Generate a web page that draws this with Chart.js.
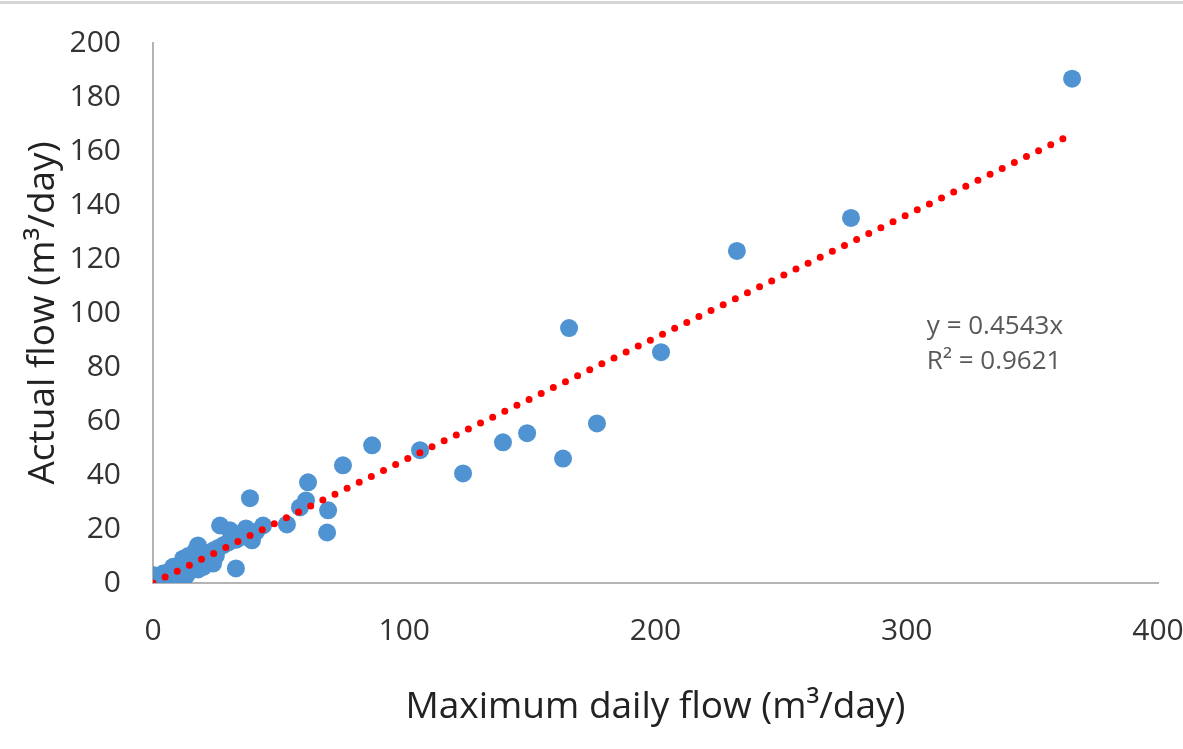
<!DOCTYPE html>
<html>
<head>
<meta charset="utf-8">
<script src="https://cdn.jsdelivr.net/npm/chart.js@4.4.1/dist/chart.umd.min.js"></script>
<style>
  html, body { margin: 0; padding: 0; background: #fff; }
  #wrap { position: relative; width: 1183px; height: 749px; }
  #topline { position: absolute; left: 0; top: 1px; width: 1183px; height: 3px; background: #d6d6d6; }
</style>
</head>
<body>
<div id="wrap">
  <canvas id="canvas" width="1183" height="749"></canvas>
  <div id="topline"></div>
</div>
<script>
'use strict';

// maximum daily flow (m3/day) vs actual flow (m3/day)
const maxFlow = [
  365.8, 277.8, 232.4, 165.6, 202.2, 176.7, 163.2, 148.9, 139.3, 123.4,
  106.3, 87.2, 75.6, 69.7, 69.3, 61.7, 60.9, 58.5, 53.3, 38.6,
  37.0, 39.4, 43.8, 33.0, 26.7, 30.6, 31.8, 17.9, 23.9, 15.0,
  16.0, 10.7, 0, 1, 2, 3, 4, 5, 6, 7,
  8, 9, 10, 11, 12, 13, 14, 16, 18, 20,
  22, 24, 26, 28, 30, 33, 2, 4, 6, 8,
  10, 12, 14, 18, 20, 3, 6, 9, 12, 14,
  17, 35, 41, 0, 1, 2, 3, 5, 7, 9,
  11, 13, 0, 1, 4, 8, 21, 25
];
const actualFlow = [
  186.8, 135.2, 123.0, 94.4, 85.5, 59.1, 46.1, 55.5, 52.1, 40.6,
  49.2, 51.0, 43.6, 26.9, 18.7, 37.3, 30.6, 28.0, 21.7, 31.4,
  20.2, 15.8, 21.3, 5.4, 21.3, 19.5, 18.4, 13.9, 7.2, 7.0,
  5.0, 3.5, 0, 0.5, 1, 1.2, 2, 2.5, 3, 3,
  3.5, 4.5, 5, 5, 6, 6.5, 7, 8, 9, 10,
  11, 12, 13, 14, 15, 16, 0, 0.5, 1, 1.5,
  2, 3, 4, 5, 6, 2, 4, 6, 9, 10,
  12, 17, 19, 1.5, 0, 2.5, 0, 0.5, 1, 2,
  1.5, 2.5, 3, 2.5, 3.5, 6, 8, 10
];

// linear trend through origin
const slope = 0.4543;
const rSquared = 0.9621;
const trendX = [0, 363];

const xTicks = [0, 100, 200, 300, 400];
const yTicks = [0, 20, 40, 60, 80, 100, 120, 140, 160, 180, 200];

const points = maxFlow.map((x, i) => ({x: x, y: actualFlow[i]}));
const trendPoints = trendX.map(x => ({x: x, y: slope * x}));

const FONT = "'Open Sans', sans-serif";

const trendLabel = {
  id: 'trendLabel',
  afterDatasetsDraw(chart) {
    let ctx = chart.ctx;
    let xs = chart.scales.x;
    let ys = chart.scales.y;
    let left = xs.getPixelForValue(308);
    ctx.save();
    ctx.fillStyle = '#595959';
    ctx.font = '26px ' + FONT;
    ctx.textBaseline = 'middle';
    ctx.textAlign = 'left';
    ctx.fillText('y = ' + slope + 'x', left, ys.getPixelForValue(95));
    ctx.fillText('R\u00B2 = ' + rSquared, left, ys.getPixelForValue(82));
    ctx.restore();
  }
};

let ctx = document.querySelector('#canvas').getContext('2d');
let chart = new Chart(ctx, {
  type: 'scatter',
  data: {
    datasets: [
      {
        data: trendPoints,
        showLine: true,
        order: 0,
        borderColor: '#ff0000',
        borderWidth: 7,
        borderDash: [0, 13.5],
        borderCapStyle: 'round',
        pointRadius: 0
      },
      {
        data: points,
        order: 1,
        backgroundColor: '#4f93d2',
        borderWidth: 0,
        pointRadius: 9
      }
    ]
  },
  plugins: [trendLabel],
  options: {
    responsive: false,
    animation: false,
    layout: {padding: {top: 43, right: 25, left: 0, bottom: 0}},
    plugins: {legend: {display: false}, tooltip: {enabled: false}},
    scales: {
      x: {
        type: 'linear',
        min: 0,
        max: 400,
        afterBuildTicks: s => { s.ticks = xTicks.map(v => ({value: v})); },
        afterFit: s => {
          s.height = 166;
          s.paddingLeft = 0;
          s.paddingRight = 0;
        },
        grid: {display: false, drawTicks: false},
        border: {display: true, color: '#b4b4b4', width: 2},
        ticks: {padding: 30, color: '#333333', font: {family: FONT, size: 30}},
        title: {
          display: true,
          text: 'Maximum daily flow (m\u00B3/day)',
          color: '#222222',
          font: {family: FONT, size: 37},
          padding: {top: 0, bottom: 19}
        }
      },
      y: {
        type: 'linear',
        min: 0,
        max: 200,
        afterBuildTicks: s => { s.ticks = yTicks.map(v => ({value: v})); },
        afterFit: s => {
          s.width = 153;
          s.paddingTop = 0;
          s.paddingBottom = 0;
        },
        grid: {display: false, drawTicks: false},
        border: {display: true, color: '#b4b4b4', width: 2},
        ticks: {padding: 32, color: '#333333', font: {family: FONT, size: 30}},
        title: {
          display: true,
          text: 'Actual flow (m\u00B3/day)',
          color: '#222222',
          font: {family: FONT, size: 37},
          padding: {top: 21, bottom: 0}
        }
      }
    }
  }
});
</script>
</body>
</html>
